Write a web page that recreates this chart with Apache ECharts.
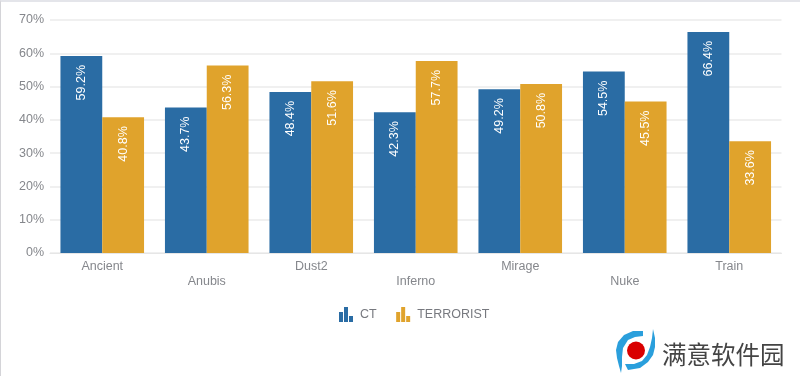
<!DOCTYPE html>
<html>
<head>
<meta charset="utf-8">
<style>
	html, body { margin: 0; padding: 0; background: #fff; }
	#chart { width: 800px; height: 376px; }
	/* grey edge of the original screenshot */
	#edge { position: absolute; left: 0; top: 0; width: 799px; height: 374px; border-top: 2px solid #e4e5ea; border-left: 1px solid #d4d4d8; pointer-events: none; }
</style>
</head>
<body>
<div id="chart"></div>
<div id="edge"></div>
<script src="https://cdn.jsdelivr.net/npm/echarts@6/dist/echarts.min.js"></script>
<script>
const categories = ['Ancient', 'Anubis', 'Dust2', 'Inferno', 'Mirage', 'Nuke', 'Train'];
const ctValues = [59.2, 43.7, 48.4, 42.3, 49.2, 54.5, 66.4];
const terroristValues = [40.8, 56.3, 51.6, 57.7, 50.8, 45.5, 33.6];
const yTicks = { min: 0, max: 70, interval: 10 };

const barIcon = 'path://M0,5H4V15H0ZM5,0H9V15H5ZM10,9H14V15H10Z';
const font = '"Liberation Sans", Arial, sans-serif';

function barLabel() {
	return {
		show: true,
		position: 'insideTop',
		rotate: 90,
		align: 'right',
		verticalAlign: 'middle',
		distance: 9,
		color: '#fff',
		fontFamily: font,
		fontSize: 12.5,
		formatter: function (p) { return p.value.toFixed(1) + '%'; }
	};
}

let myChart = echarts.init(document.getElementById('chart'), null, { renderer: 'canvas' });
myChart.setOption({
	animation: false,
	backgroundColor: '#fff',
	grid: { left: 50, right: 18.5, top: 20, bottom: 123 },
	legend: {
		data: [{ name: 'CT', icon: barIcon }, { name: 'TERRORIST', icon: barIcon }],
		left: 334,
		top: 302,
		itemWidth: 14,
		itemHeight: 15,
		itemGap: 19.5,
		textStyle: { color: '#77797f', fontFamily: font, fontSize: 12.5, padding: [0, 0, 0, 2] }
	},
	xAxis: {
		type: 'category',
		data: categories,
		axisTick: { show: false },
		axisLine: { lineStyle: { color: '#e6e6e6', width: 1 } },
		axisLabel: {
			interval: 0,
			margin: 6,
			color: '#85878c',
			fontFamily: font,
			fontSize: 12.5,
			lineHeight: 15,
			// staggered labels, every second one sits a line lower
			formatter: function (value, index) { return index % 2 ? '\n' + value : value; }
		}
	},
	yAxis: {
		type: 'value',
		min: yTicks.min,
		max: yTicks.max,
		interval: yTicks.interval,
		axisLine: { show: false },
		axisTick: { show: false },
		splitLine: { lineStyle: { color: '#ebebeb', width: 1.5 } },
		axisLabel: { margin: 6, color: '#85878c', fontFamily: font, fontSize: 12.5, formatter: '{value}%' }
	},
	series: [
		{ name: 'CT', type: 'bar', data: ctValues, barGap: 0, barCategoryGap: '20%',
			itemStyle: { color: '#2a6ca4' }, label: barLabel() },
		{ name: 'TERRORIST', type: 'bar', data: terroristValues,
			itemStyle: { color: '#e0a32c' }, label: barLabel() }
	],
	graphic: [
		// watermark in the lower right corner
		{ type: 'polygon', shape: { points: [[643,331],[633,331],[624,335],[618,342],[616,350],[617,358],[619,366],[621,373],[622,366],[622,357],[623,348],[628,340],[635,337],[643,336]] }, style: { fill: '#2a9fdc' } },
		{ type: 'polygon', shape: { points: [[653,329],[655,338],[655,347],[653,355],[648,362],[640,368],[628,370],[625,364],[634,364],[642,361],[647,355],[650,347],[652,338]] }, style: { fill: '#2a9fdc' } },
		{ type: 'circle', shape: { cx: 636, cy: 350.5, r: 9 }, style: { fill: '#d90000' } },
		{ type: 'text', left: 662, top: 342, style: { text: '满意软件园', fill: '#444', font: '24.5px "Noto Sans CJK SC"' } }
	]
});
</script>
</body>
</html>
